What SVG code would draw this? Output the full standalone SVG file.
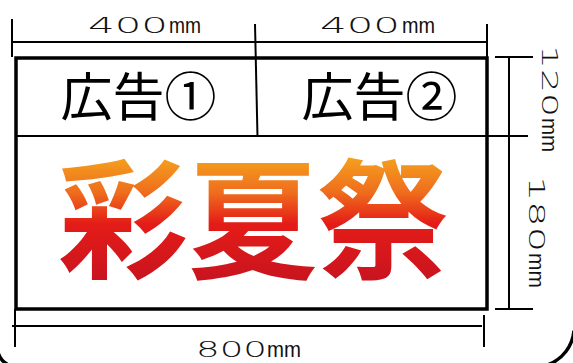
<svg xmlns="http://www.w3.org/2000/svg" width="573" height="363" viewBox="0 0 573 363">
<defs>
<linearGradient id="logoGrad" gradientUnits="userSpaceOnUse" x1="0" y1="155" x2="0" y2="280">
<stop offset="0" stop-color="#f5a41f"/>
<stop offset="0.3" stop-color="#ef6d1c"/>
<stop offset="0.55" stop-color="#e41c18"/>
<stop offset="1" stop-color="#c9141f"/>
</linearGradient>
</defs>
<style>
.thin{stroke:#000;stroke-width:2;fill:none}
.thick{stroke:#000;stroke-width:3.5;fill:none}
.dim{font-family:"DejaVu Sans","Liberation Sans",sans-serif;font-weight:200;font-size:22px;fill:#111}
.mm{font-family:"Liberation Sans",Arial,sans-serif;font-size:22px;font-weight:400}
.ad{font-family:"Noto Sans CJK JP","Noto Sans",sans-serif;font-size:52px;fill:#000;text-anchor:middle}
.logo{font-family:"Noto Sans CJK JP",sans-serif;font-size:130px;font-weight:700;fill:url(#logoGrad);text-anchor:middle}
</style>
<rect width="573" height="363" fill="#fff"/>
<g id="frame">
<path class="thick" d="M547.9 364.8 A40 40 0 0 0 574 330.7"/>
<path class="thick" d="M-1.5 353.8 A20 20 0 0 0 7.3 364.3"/>
</g>
<g id="board">
<rect class="thick" x="16" y="58" width="471" height="251"/>
</g>
<g id="connectors">
<line class="thin" x1="16" y1="136" x2="528" y2="136"/>
<line class="thin" x1="255" y1="24" x2="257.5" y2="137"/>
<line class="thin" x1="12" y1="42" x2="487" y2="42"/>
<line class="thin" x1="12" y1="19" x2="12" y2="57"/>
<line class="thin" x1="487" y1="24" x2="487" y2="58"/>
<line class="thin" x1="509" y1="57" x2="509" y2="309"/>
<line class="thin" x1="495" y1="57" x2="533" y2="57"/>
<line class="thin" x1="495" y1="309" x2="533" y2="309"/>
<line class="thin" x1="12" y1="326" x2="482" y2="326"/>
<line class="thin" x1="15" y1="309" x2="15" y2="347"/>
<line class="thin" x1="484" y1="315" x2="484" y2="347"/>
</g>
<g id="ad1">
<text class="ad" x="138.5" y="116">広告①</text>
</g>
<g id="ad2">
<text class="ad" x="379.5" y="116">広告②</text>
</g>
<g id="logo">
<text class="logo" x="253" y="268">彩夏祭</text>
</g>
<g id="labels">
<text class="dim" y="33"><tspan x="88" textLength="80" lengthAdjust="spacingAndGlyphs">400</tspan><tspan class="mm" x="169" textLength="32" lengthAdjust="spacingAndGlyphs">mm</tspan></text>
<text class="dim" y="33"><tspan x="320" textLength="80" lengthAdjust="spacingAndGlyphs">400</tspan><tspan class="mm" x="402" textLength="33" lengthAdjust="spacingAndGlyphs">mm</tspan></text>
<text class="dim" y="357"><tspan x="196" textLength="71" lengthAdjust="spacingAndGlyphs">800</tspan><tspan class="mm" x="267" textLength="34" lengthAdjust="spacingAndGlyphs">mm</tspan></text>
<text class="dim" transform="translate(542,45) rotate(90)"><tspan x="0" y="0" textLength="72" lengthAdjust="spacingAndGlyphs">120</tspan><tspan class="mm" x="73" y="0" textLength="34" lengthAdjust="spacingAndGlyphs">mm</tspan></text>
<text class="dim" transform="translate(529,176) rotate(90)"><tspan x="0" y="0" textLength="76" lengthAdjust="spacingAndGlyphs">180</tspan><tspan class="mm" x="77" y="0" textLength="35" lengthAdjust="spacingAndGlyphs">mm</tspan></text>
</g>
</svg>
